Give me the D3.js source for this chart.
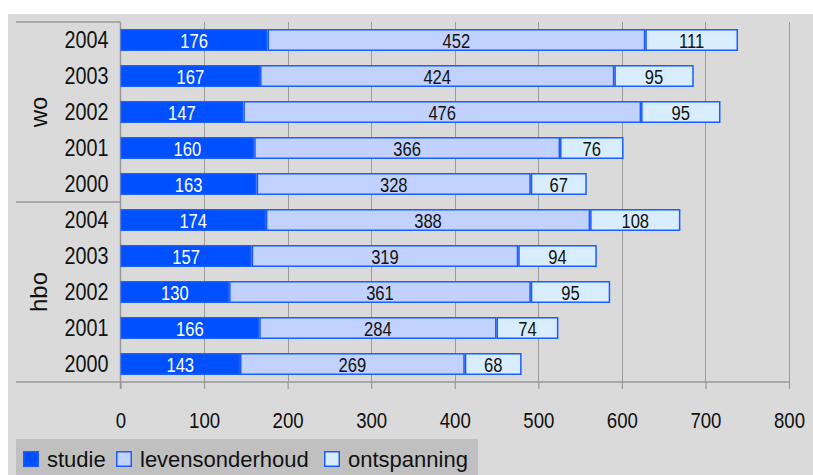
<!DOCTYPE html>
<html><head><meta charset="utf-8">
<script src="https://cdn.jsdelivr.net/npm/d3@7"></script>
<style>
html,body{margin:0;padding:0;background:#fff;}
svg{display:block;}
text{font-family:"Liberation Sans",Arial,sans-serif;}
</style></head><body>
<svg id="chart" width="813" height="475"></svg>
<script>
const groups = ["wo", "hbo"];
const years = ["2004", "2003", "2002", "2001", "2000"];
const seriesNames = ["studie", "levensonderhoud", "ontspanning"];
const studieWo = [176, 167, 147, 160, 163];
const levenWo = [452, 424, 476, 366, 328];
const ontspWo = [111, 95, 95, 76, 67];
const studieHbo = [174, 157, 130, 166, 143];
const levenHbo = [388, 319, 361, 284, 269];
const ontspHbo = [108, 94, 95, 74, 68];
const xTicks = [0, 100, 200, 300, 400, 500, 600, 700, 800];

const fills = ["#0050ff", "#c2d2ff", "#d8eeff"];
const strokeCol = "#1a5cff";

const rows = [];
groups.forEach((g, gi) => {
  const s = gi === 0 ? studieWo : studieHbo;
  const l = gi === 0 ? levenWo : levenHbo;
  const o = gi === 0 ? ontspWo : ontspHbo;
  years.forEach((y, i) => rows.push({key: g + "-" + y, group: g, year: y, vals: [s[i], l[i], o[i]]}));
});

const svg = d3.select("#chart");
svg.append("rect").attr("x", 8).attr("y", 14).attr("width", 805).attr("height", 461).attr("fill", "#dadada");

const x = d3.scaleLinear().domain([0, 800]).range([120.5, 789]);
const y = d3.scaleBand().domain(rows.map(r => r.key)).range([22, 382]).paddingInner(0.39).paddingOuter(0.195);

// condensed text helper
function ctext(sel, tx, ty, sx) {
  return sel.attr("x", 0).attr("y", 0)
    .attr("transform", (d, i, n) => {
      const X = typeof tx === "function" ? tx(d, i, n) : tx;
      const Y = typeof ty === "function" ? ty(d, i, n) : ty;
      return `translate(${X},${Y}) scale(${sx},1)`;
    });
}

// grid lines
svg.append("g").selectAll("line").data(xTicks.slice(1)).join("line")
  .attr("x1", d => Math.round(x(d)) + 0.5).attr("x2", d => Math.round(x(d)) + 0.5)
  .attr("y1", 22).attr("y2", 382).attr("stroke", "#9a9a9a").attr("stroke-width", 1);

// left panel lines
const lp = svg.append("g").attr("stroke", "#999").attr("stroke-width", 1.5);
lp.append("line").attr("x1", 16).attr("x2", 120.5).attr("y1", 22).attr("y2", 22);
lp.append("line").attr("x1", 16).attr("x2", 120.5).attr("y1", 202).attr("y2", 202);
lp.append("line").attr("x1", 120.5).attr("x2", 120.5).attr("y1", 22).attr("y2", 389);

// x axis
const axis = svg.append("g").attr("transform", "translate(0,382)")
  .call(d3.axisBottom(x).tickValues(xTicks).tickSize(7).tickSizeOuter(0));
axis.select(".domain").remove();
axis.selectAll(".tick line").attr("stroke", "#999").attr("stroke-width", 1.2);
axis.selectAll(".tick text").attr("font-size", 23).attr("fill", "#111")
  .attr("font-family", '"Liberation Sans",Arial,sans-serif')
  .attr("dy", null).attr("y", 0).attr("x", 0)
  .attr("transform", "translate(0,46.3) scale(0.81,1)");
svg.append("line").attr("x1", 16).attr("x2", 789).attr("y1", 382).attr("y2", 382)
  .attr("stroke", "#999").attr("stroke-width", 1.5);

// bars
const rowG = svg.append("g").selectAll("g").data(rows).join("g");
rowG.each(function(r) {
  const g = d3.select(this);
  let acc = 0;
  const segs = r.vals.map((v, i) => { const s = {i, v, x0: acc, x1: acc + v}; acc += v; return s; });
  g.selectAll("rect").data(segs).join("rect")
    .attr("x", d => x(d.x0) + 0.75).attr("width", d => x(d.x1) - x(d.x0) - 1.5)
    .attr("y", y(r.key) + 0.75).attr("height", y.bandwidth() - 1.5)
    .attr("fill", d => fills[d.i]).attr("stroke", strokeCol).attr("stroke-width", 1.5);
  const cy = y(r.key) + y.bandwidth() / 2;
  g.selectAll("text").data(segs).join("text")
    .call(ctext, d => (x(d.x0) + x(d.x1)) / 2, cy + 8.3, 0.79)
    .attr("text-anchor", "middle")
    .attr("font-size", 21).attr("fill", d => d.i === 0 ? "#fff" : "#111").text(d => d.v);
});

// year labels
svg.append("g").selectAll("text").data(rows).join("text")
  .call(ctext, 108.5, r => y(r.key) + y.bandwidth() / 2 + 8.3, 0.86)
  .attr("text-anchor", "end")
  .attr("font-size", 23).attr("fill", "#111").text(r => r.year);

// group labels
groups.forEach((g, gi) => {
  const cy = gi === 0 ? (22 + 202) / 2 : (202 + 382) / 2;
  svg.append("text").attr("transform", `translate(47,${cy}) rotate(-90)`)
    .attr("text-anchor", "middle")
    .attr("font-size", 24).attr("fill", "#111").text(g);
});

// legend
const leg = svg.append("g");
leg.append("rect").attr("x", 16).attr("y", 439).attr("width", 462).attr("height", 36).attr("fill", "#c0c0c0");
const legX = [23, 116, 324];
seriesNames.forEach((n, i) => {
  leg.append("rect").attr("x", legX[i] + 0.75).attr("y", 451.75).attr("width", 14.5).attr("height", 14.5)
    .attr("fill", fills[i]).attr("stroke", strokeCol).attr("stroke-width", 1.5);
  leg.append("text").attr("x", legX[i] + 24).attr("y", 467)
    .attr("font-size", 22).attr("fill", "#111").text(n);
});
</script>
</body></html>
